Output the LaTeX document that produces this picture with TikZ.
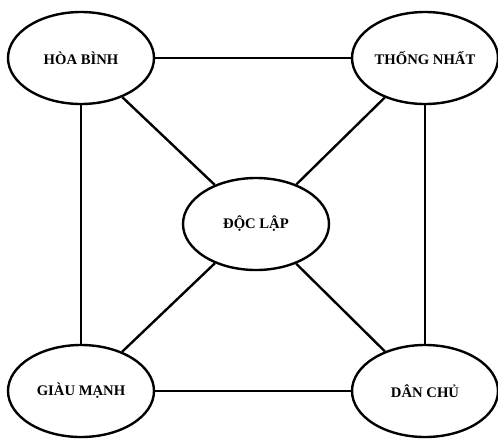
\documentclass[tikz,border=0pt]{standalone}
\usepackage{fontspec}
\setmainfont{Liberation Serif}
\usetikzlibrary{shapes.geometric}
\begin{document}
\begin{tikzpicture}[x=0.75pt,y=-0.75pt,
  oval/.style={draw,ellipse,line width=1.8pt,minimum width=109.5pt,minimum height=69pt,inner sep=0pt,font=\fontsize{11}{13}\selectfont\bfseries,fill=white},
  link/.style={line width=1.8pt}]
\useasboundingbox (0,0) rectangle (498,439);
\node[oval] (hb) at (81,58) {HÒA BÌNH};
\node[oval] (tn) at (425,58) {THỐNG NHẤT};
\node[oval] (dl) at (256,224) {ĐỘC LẬP};
\node[oval] (gm) at (81,391) {GIÀU MẠNH};
\node[oval] (dc) at (425,391) {DÂN CHỦ};
\draw[link] (hb) -- (tn);
\draw[link] (hb.south) -- (gm.north);
\draw[link] (tn.south) -- (dc.north);
\draw[link] (gm) -- (dc);
\draw[link] (hb) -- (dl);
\draw[link] (tn) -- (dl);
\draw[link] (gm) -- (dl);
\draw[link] (dc) -- (dl);
\end{tikzpicture}
\end{document}
